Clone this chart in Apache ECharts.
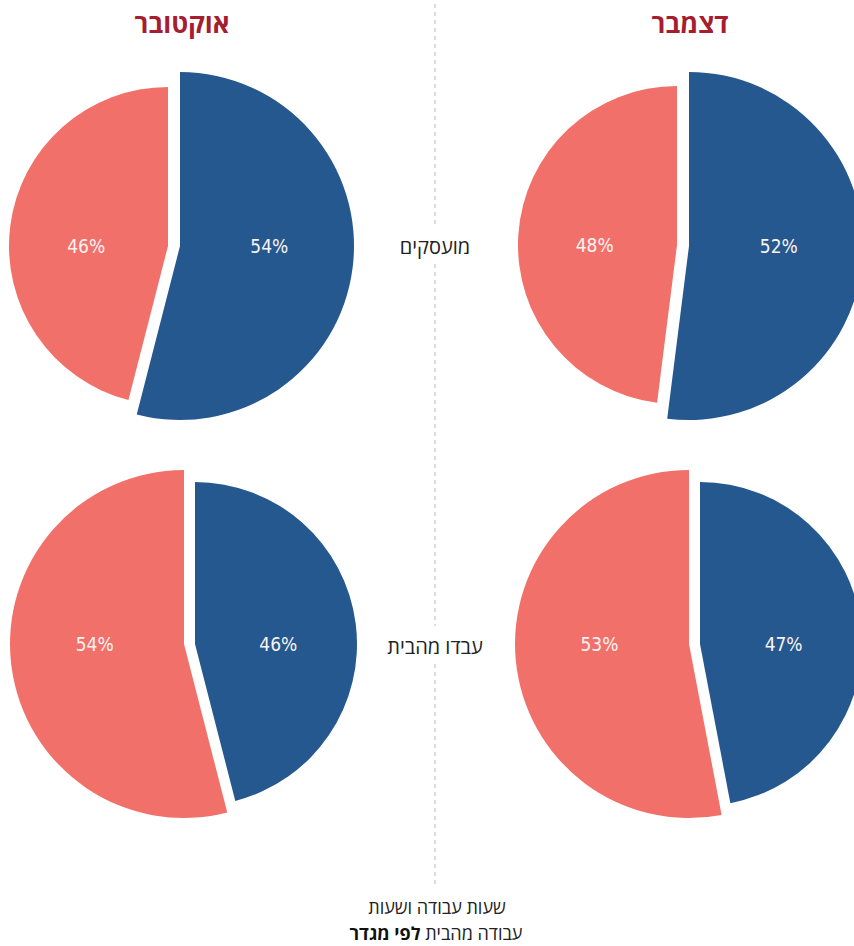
<!DOCTYPE html>
<html>
<head>
<meta charset="utf-8">
<script src="https://cdn.jsdelivr.net/npm/echarts@6/dist/echarts.min.js"></script>
<style>
html,body{margin:0;padding:0;background:#fff;}
#chart{width:854px;height:946px;}
</style>
</head>
<body>
<div id="chart"></div>
<script>
// ---- data ----
const months = ['אוקטובר', 'דצמבר'];
const rowLabels = ['מועסקים', 'עבדו מהבית'];
const genders = ['גברים', 'נשים'];
const employedMen = [54, 52];
const employedWomen = [46, 48];
const wfhMen = [46, 47];
const wfhWomen = [54, 53];
const titleLine1 = 'שעות עבודה ושעות';
const titleLine2Normal = 'עבודה מהבית';
const titleLine2Bold = 'לפי מגדר';

// ---- style / layout ----
const colors = ['#25588e', '#f1716a'];
const titleColor = '#a51d2f';
const hebFont = "'Open Sans', 'Liberation Sans', 'DejaVu Sans', sans-serif";
const numFont = "'Liberation Sans Narrow', 'DejaVu Sans Condensed', 'Liberation Sans', sans-serif";

const pieDefs = [
  { vals: [employedMen[0], employedWomen[0]], big: [180, 246], small: [168, 246], rb: 174, rs: 159 },
  { vals: [employedMen[1], employedWomen[1]], big: [689, 246], small: [677, 245], rb: 174, rs: 159 },
  { vals: [wfhMen[0], wfhWomen[0]], big: [184, 644], small: [195, 644], rb: 174, rs: 162 },
  { vals: [wfhMen[1], wfhWomen[1]], big: [689, 644], small: [700, 644], rb: 174, rs: 162 }
];

function makeSeries(vals, which, center, radius) {
  return {
    type: 'pie',
    center: center,
    radius: radius,
    startAngle: 90,
    clockwise: true,
    silent: true,
    animation: false,
    avoidLabelOverlap: false,
    emphasis: { disabled: true },
    itemStyle: { borderWidth: 0 },
    label: {
      show: true,
      position: 'inside',
      formatter: '{c}%',
      color: '#fbf3f3',
      fontFamily: numFont,
      fontSize: 19,
      fontWeight: 500
    },
    labelLine: { show: false },
    labelLayout: function () { return { y: center[1], verticalAlign: 'middle' }; },
    data: vals.map(function (v, i) {
      return {
        name: genders[i],
        value: v,
        itemStyle: { color: i === which ? colors[i] : 'rgba(0,0,0,0)' },
        label: { show: i === which }
      };
    })
  };
}

const series = [];
pieDefs.forEach(function (p) {
  const bigIdx = p.vals[0] >= p.vals[1] ? 0 : 1;
  series.push(makeSeries(p.vals, bigIdx, p.big, p.rb));
  series.push(makeSeries(p.vals, 1 - bigIdx, p.small, p.rs));
});

function dash(y1, y2) {
  return { type: 'line', silent: true, shape: { x1: 435, y1: y1, x2: 435, y2: y2 },
    style: { stroke: '#b8b8b8', lineWidth: 1, lineDash: [4, 4] } };
}
function txt(x, y, text, size, weight, color) {
  return { type: 'text', x: x, y: y, silent: true,
    style: { text: text, fill: color, fontSize: size, fontWeight: weight, fontFamily: hebFont,
      align: 'center', verticalAlign: 'middle' } };
}

const graphic = [
  dash(4, 226), dash(264, 626), dash(664, 886),
  txt(182, 23, months[0], 26, 'bold', titleColor),
  txt(690, 23, months[1], 26, 'bold', titleColor),
  txt(435, 246, rowLabels[0], 20, 'normal', '#222'),
  txt(435, 646, rowLabels[1], 20, 'normal', '#222'),
  txt(437, 907, titleLine1, 18, 'normal', '#222'),
  { type: 'text', x: 436, y: 933, silent: true,
    style: { text: '{b|' + titleLine2Bold + '} {n|' + titleLine2Normal + '}',
      fill: '#222', fontSize: 18, fontFamily: hebFont, align: 'center', verticalAlign: 'middle',
      rich: { b: { fontWeight: 'bold', fontSize: 18, fontFamily: hebFont, fill: '#111' },
              n: { fontWeight: 'normal', fontSize: 18, fontFamily: hebFont, fill: '#222' } } } }
];

const chart = echarts.init(document.getElementById('chart'), null, { renderer: 'svg' });
chart.setOption({
  backgroundColor: '#ffffff',
  animation: false,
  series: series,
  graphic: graphic
});
</script>
</body>
</html>
